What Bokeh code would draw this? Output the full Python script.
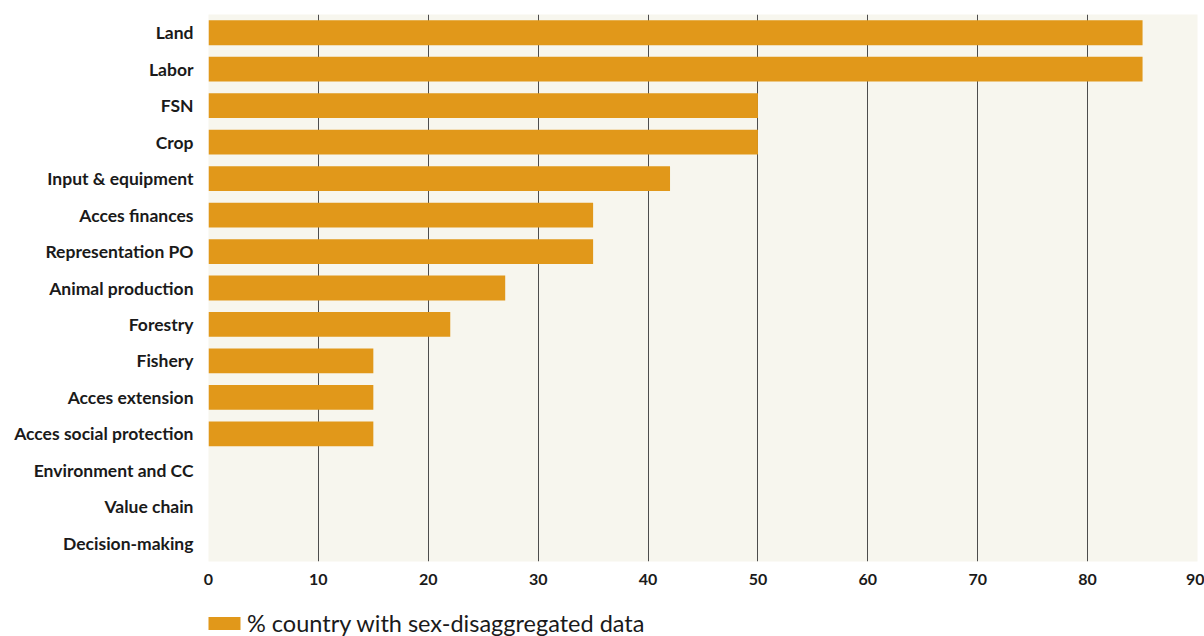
from bokeh.plotting import figure
from bokeh.layouts import column
from bokeh.models import FactorRange, Range1d, FixedTicker, Legend, LegendItem, ColumnDataSource
from bokeh.embed import file_html
from bokeh.resources import INLINE

categories = ["Land", "Labor", "FSN", "Crop", "Input & equipment", "Acces finances",
              "Representation PO", "Animal production", "Forestry", "Fishery",
              "Acces extension", "Acces social protection", "Environment and CC",
              "Value chain", "Decision-making"]
values = [85, 85, 50, 50, 42, 35, 35, 27, 22, 15, 15, 15, 0, 0, 0]
x_ticks = [0, 10, 20, 30, 40, 50, 60, 70, 80, 90]
series_name = "% country with sex-disaggregated data"
bar_color = "#E1981A"

src = ColumnDataSource(dict(cat=categories, val=values))

p = figure(width=1204, height=590, output_backend="svg", toolbar_location=None,
           y_range=FactorRange(*list(reversed(categories)), range_padding=0),
           x_range=Range1d(0, 90),
           min_border_left=208, min_border_right=7, min_border_top=14, min_border_bottom=29)
p.outline_line_color = None
p.background_fill_color = "#F7F6EE"
p.border_fill_color = "white"

p.hbar(y="cat", right="val", left=0, height=0.68, source=src,
       fill_color=bar_color, line_color=None)

p.xaxis.ticker = FixedTicker(ticks=x_ticks)
p.xgrid.ticker = FixedTicker(ticks=x_ticks)
p.xgrid.grid_line_color = "#4d4d4d"
p.xgrid.grid_line_width = 1
p.ygrid.grid_line_color = None

for ax in (p.xaxis, p.yaxis):
    ax.axis_line_color = None
    ax.major_tick_line_color = None
    ax.minor_tick_line_color = None
    ax.major_label_text_font = "Lato"
    ax.major_label_text_font_style = "bold"
    ax.major_label_text_color = "#1a1a1a"
p.xaxis.major_label_text_font_size = "16px"
p.xaxis.major_label_standoff = 6
p.yaxis.major_label_text_font_size = "17.5px"
p.yaxis.major_label_standoff = 9

# legend strip below the chart (its frame is aligned with the chart's frame)
lf = figure(width=1204, height=46, output_backend="svg", toolbar_location=None,
            x_range=Range1d(0, 1), y_range=Range1d(0, 1),
            min_border_left=0, min_border_right=0, min_border_top=0, min_border_bottom=0)
lf.axis.visible = False
lf.grid.visible = False
lf.outline_line_color = None
lf.background_fill_alpha = 0
# zero-width swatch renderer used only for the legend entry
lr = lf.hbar(y=[-5], right=[0], left=0, height=0.5, fill_color=bar_color, line_color=None)
legend = Legend(items=[LegendItem(label=series_name, renderers=[lr])],
                location=(-4, -1), orientation="horizontal",
                glyph_width=40, glyph_height=16, padding=0, margin=0, spacing=0,
                label_standoff=3, border_line_color=None, background_fill_alpha=0,
                label_text_font="Lato", label_text_font_size="23.5px",
                label_text_color="#1a1a1a")
lf.add_layout(legend, "center")

layout = column(p, lf, spacing=0)
open("out.html", "w").write(file_html(layout, INLINE))
